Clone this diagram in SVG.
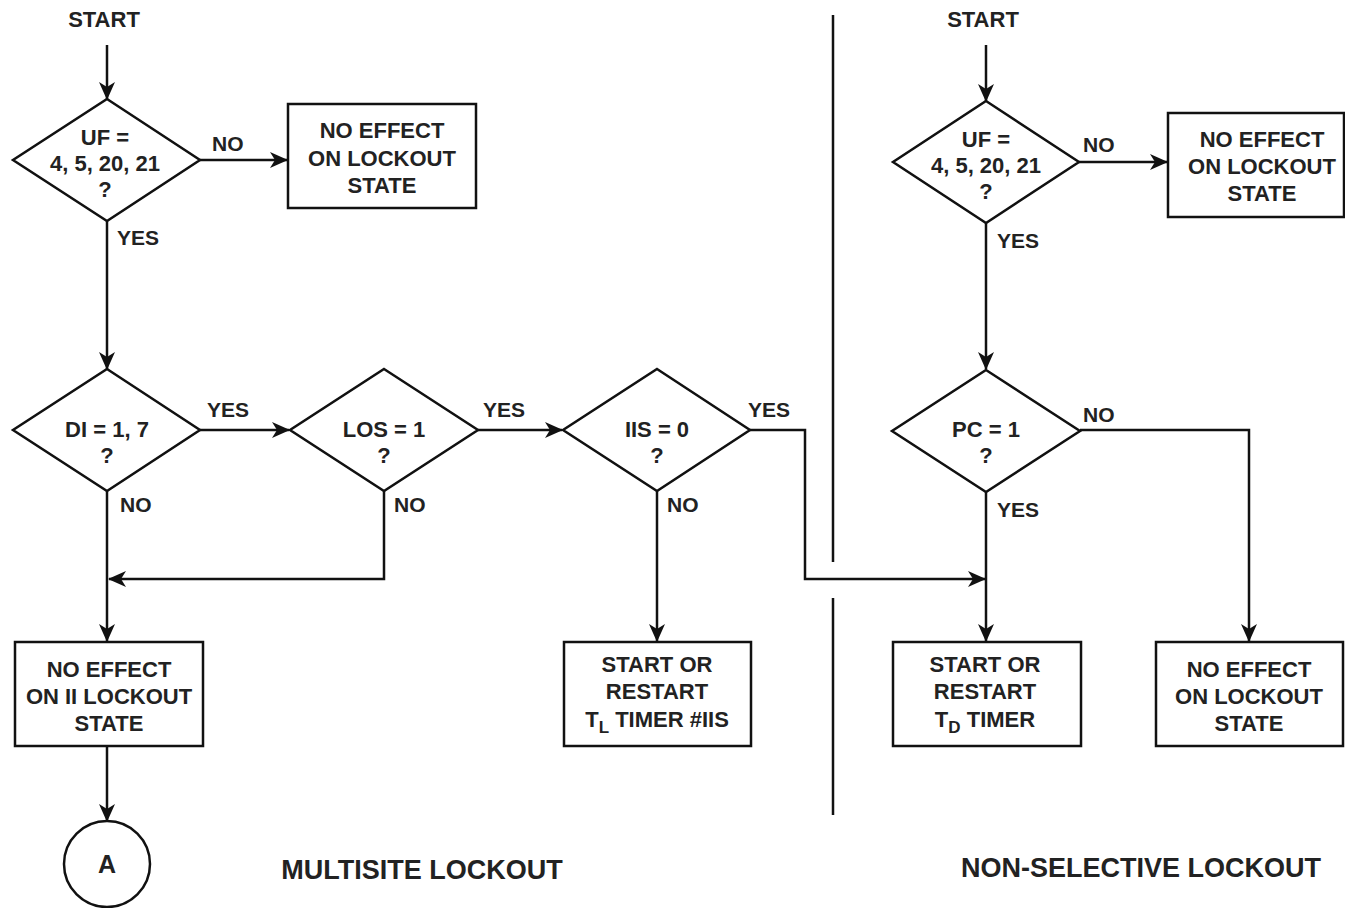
<svg xmlns="http://www.w3.org/2000/svg" width="1345" height="908" viewBox="0 0 1345 908">
<defs>
<style>
.s{fill:#fff;stroke:#111;stroke-width:2.5}
.c{fill:none;stroke:#111;stroke-width:2.5}
.t{font-family:"Liberation Sans",Arial,sans-serif;font-weight:bold;font-size:22px;fill:#222;text-anchor:middle}
.l{font-family:"Liberation Sans",Arial,sans-serif;font-weight:bold;font-size:21px;fill:#222}
.h{font-family:"Liberation Sans",Arial,sans-serif;font-weight:bold;font-size:27px;fill:#222;text-anchor:middle}
.sub{font-size:17px}
</style>
<marker id="a" markerUnits="userSpaceOnUse" markerWidth="18" markerHeight="16" refX="17" refY="8" orient="auto">
<path d="M0,0 L18,8 L0,16 L5,8 z" fill="#111"/>
</marker>
</defs>
<g id="connectors">
<path class="c" d="M107,45 V99" marker-end="url(#a)"/>
<path class="c" d="M200,160 H287" marker-end="url(#a)"/>
<path class="c" d="M107,221 V369" marker-end="url(#a)"/>
<path class="c" d="M200,430 H289" marker-end="url(#a)"/>
<path class="c" d="M478,430 H562" marker-end="url(#a)"/>
<path class="c" d="M750,430 H805 V579 H985" marker-end="url(#a)"/>
<path class="c" d="M384,491 V579 H109" marker-end="url(#a)"/>
<path class="c" d="M107,491 V641" marker-end="url(#a)"/>
<path class="c" d="M657,491 V641" marker-end="url(#a)"/>
<path class="c" d="M107,746 V821" marker-end="url(#a)"/>
<path class="c" d="M986,45 V101" marker-end="url(#a)"/>
<path class="c" d="M1079,162 H1167" marker-end="url(#a)"/>
<path class="c" d="M986,223 V369" marker-end="url(#a)"/>
<path class="c" d="M1080,430 H1249 V641" marker-end="url(#a)"/>
<path class="c" d="M986,492 V641" marker-end="url(#a)"/>
<text class="l" x="212" y="151">NO</text>
<text class="l" x="117" y="245">YES</text>
<text class="l" x="207" y="417">YES</text>
<text class="l" x="483" y="417">YES</text>
<text class="l" x="748" y="417">YES</text>
<text class="l" x="120" y="512">NO</text>
<text class="l" x="394" y="512">NO</text>
<text class="l" x="667" y="512">NO</text>
<text class="l" x="1083" y="152">NO</text>
<text class="l" x="997" y="248">YES</text>
<text class="l" x="1083" y="422">NO</text>
<text class="l" x="997" y="517">YES</text>
</g>
<g id="divider">
<path class="c" d="M833,15 V562 M833,598 V815"/>
</g>
<g id="start-left"><text class="t" x="104" y="27">START</text></g>
<g id="uf-left">
<polygon class="s" points="107,99 200,160 107,221 13,160"/>
<text class="t" x="105" y="145">UF =</text>
<text class="t" x="105" y="171">4, 5, 20, 21</text>
<text class="t" x="105" y="197">?</text>
</g>
<g id="noeffect-left">
<rect class="s" x="288" y="104" width="188" height="104"/>
<text class="t" x="382" y="138">NO EFFECT</text>
<text class="t" x="382" y="166">ON LOCKOUT</text>
<text class="t" x="382" y="193">STATE</text>
</g>
<g id="di">
<polygon class="s" points="107,369 200,430 107,491 13,430"/>
<text class="t" x="107" y="437">DI = 1, 7</text>
<text class="t" x="107" y="463">?</text>
</g>
<g id="los">
<polygon class="s" points="384,369 478,430 384,491 290,430"/>
<text class="t" x="384" y="437">LOS = 1</text>
<text class="t" x="384" y="463">?</text>
</g>
<g id="iis">
<polygon class="s" points="657,369 750,430 657,491 563,430"/>
<text class="t" x="657" y="437">IIS = 0</text>
<text class="t" x="657" y="463">?</text>
</g>
<g id="noeffect-ii">
<rect class="s" x="15" y="642" width="188" height="104"/>
<text class="t" x="109" y="677">NO EFFECT</text>
<text class="t" x="109" y="704">ON II LOCKOUT</text>
<text class="t" x="109" y="731">STATE</text>
</g>
<g id="tl-timer">
<rect class="s" x="564" y="642" width="187" height="104"/>
<text class="t" x="657" y="672">START OR</text>
<text class="t" x="657" y="699">RESTART</text>
<text class="t" x="657" y="727">T<tspan class="sub" dy="6">L</tspan><tspan dy="-6"> TIMER #IIS</tspan></text>
</g>
<g id="connector-a">
<circle class="s" cx="107" cy="864" r="43"/>
<text class="t" x="107" y="873" style="font-size:25px">A</text>
</g>
<g id="start-right"><text class="t" x="983" y="27">START</text></g>
<g id="uf-right">
<polygon class="s" points="986,101 1079,162 986,223 893,162"/>
<text class="t" x="986" y="147">UF =</text>
<text class="t" x="986" y="173">4, 5, 20, 21</text>
<text class="t" x="986" y="199">?</text>
</g>
<g id="noeffect-right">
<rect class="s" x="1168" y="113" width="176" height="104"/>
<text class="t" x="1262" y="147">NO EFFECT</text>
<text class="t" x="1262" y="174">ON LOCKOUT</text>
<text class="t" x="1262" y="201">STATE</text>
</g>
<g id="pc">
<polygon class="s" points="986,370 1080,431 986,492 892,431"/>
<text class="t" x="986" y="437">PC = 1</text>
<text class="t" x="986" y="463">?</text>
</g>
<g id="td-timer">
<rect class="s" x="893" y="642" width="188" height="104"/>
<text class="t" x="985" y="672">START OR</text>
<text class="t" x="985" y="699">RESTART</text>
<text class="t" x="985" y="727">T<tspan class="sub" dy="6">D</tspan><tspan dy="-6"> TIMER</tspan></text>
</g>
<g id="noeffect-pc">
<rect class="s" x="1156" y="642" width="187" height="104"/>
<text class="t" x="1249" y="677">NO EFFECT</text>
<text class="t" x="1249" y="704">ON LOCKOUT</text>
<text class="t" x="1249" y="731">STATE</text>
</g>
<g id="titles">
<text class="h" x="422" y="879">MULTISITE LOCKOUT</text>
<text class="h" x="1141" y="877">NON-SELECTIVE LOCKOUT</text>
</g>
</svg>
